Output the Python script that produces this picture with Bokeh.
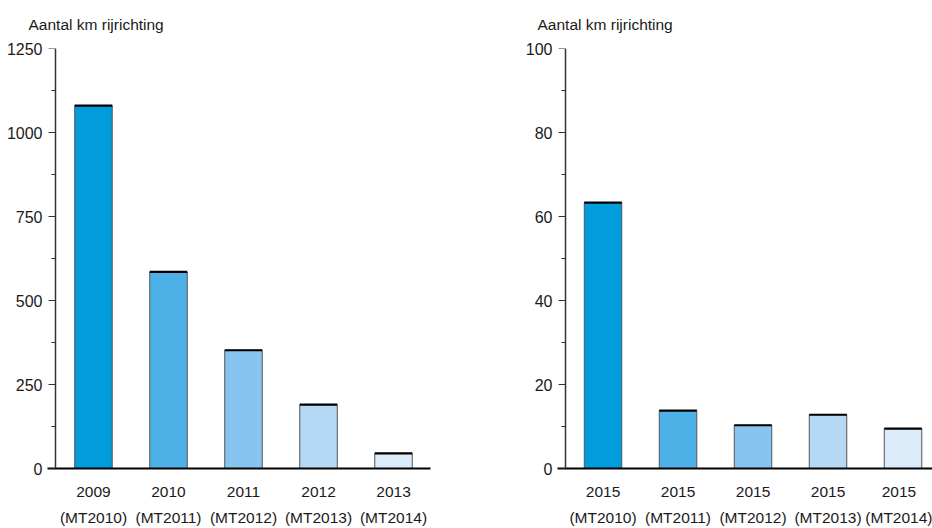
from bokeh.plotting import figure
from bokeh.layouts import row
from bokeh.models import FixedTicker, Range1d, LinearAxis
from bokeh.embed import file_html
from bokeh.resources import INLINE

# ---- data ----
left_years = ["2009", "2010", "2011", "2012", "2013"]
left_models = ["(MT2010)", "(MT2011)", "(MT2012)", "(MT2013)", "(MT2014)"]
left_values = [1080, 585, 352, 190, 45]

right_years = ["2015", "2015", "2015", "2015", "2015"]
right_models = ["(MT2010)", "(MT2011)", "(MT2012)", "(MT2013)", "(MT2014)"]
right_values = [63.3, 13.8, 10.3, 12.8, 9.5]

colors = ["#009cdc", "#4db0e7", "#88c4f0", "#b5d8f5", "#dbebfa"]
y_title = "Aantal km rijrichting"

FONT = "Liberation Sans"
TXT = "#1a1a1a"


def make_chart(years, models, values, ymax, ystep, width, border_left, border_right,
               x_start, x_end, title_offset):
    p = figure(width=width, height=528, output_backend="svg", toolbar_location=None,
               x_range=Range1d(x_start, x_end), y_range=Range1d(0, ymax),
               min_border_left=border_left, min_border_right=border_right,
               min_border_top=48, min_border_bottom=60, title=y_title)
    p.title.text_font = FONT
    p.title.text_font_size = "15.5px"
    p.title.text_font_style = "normal"
    p.title.text_color = TXT
    p.title.align = "left"
    p.title.vertical_align = "top"
    p.title.offset = title_offset
    p.title.standoff = 27

    p.outline_line_color = None
    p.xgrid.visible = False
    p.ygrid.visible = False

    xs = list(range(len(values)))
    p.vbar(x=xs, top=values, bottom=0, width=0.5, fill_color=colors,
           line_color="#555555", line_width=1)
    p.segment(x0=[x - 0.25 for x in xs], x1=[x + 0.25 for x in xs],
              y0=values, y1=values, line_color="black", line_width=2.2)

    # x axis
    xa = p.xaxis[0]
    xa.ticker = FixedTicker(ticks=xs)
    xa.major_label_overrides = {i: f"{years[i]}\n{models[i]}" for i in xs}
    xa.major_tick_out = 0
    xa.major_tick_in = 0
    xa.minor_tick_out = 0
    xa.minor_tick_in = 0
    xa.axis_line_color = "black"
    xa.axis_line_width = 2
    xa.major_label_standoff = 14
    xa.major_label_text_font = FONT
    xa.major_label_text_font_size = "15.5px"
    xa.major_label_text_line_height = 1.55
    xa.major_label_text_color = TXT

    majors = list(range(0, ymax + 1, ystep))
    minors = [m + ystep / 2 for m in majors[:-1]]

    # y axis line + ticks, at the position half a slot before the first bar
    ya = p.yaxis[0]
    ya.fixed_location = -0.5
    ya.ticker = FixedTicker(ticks=majors, minor_ticks=minors)
    ya.major_tick_out = 7
    ya.major_tick_in = 0
    ya.minor_tick_out = 4
    ya.minor_tick_in = 0
    ya.major_tick_line_color = "#333333"
    ya.minor_tick_line_color = "#333333"
    ya.axis_line_color = "#333333"
    ya.axis_line_width = 1.5
    ya.major_label_text_alpha = 0

    # y tick labels
    yl = LinearAxis(ticker=FixedTicker(ticks=majors))
    yl.axis_line_color = None
    yl.major_tick_out = 0
    yl.major_tick_in = 0
    yl.minor_tick_out = 0
    yl.minor_tick_in = 0
    yl.major_label_standoff = 5
    yl.major_label_text_font = FONT
    yl.major_label_text_font_size = "16px"
    yl.major_label_text_color = TXT
    p.add_layout(yl, "left")
    return p


left = make_chart(left_years, left_models, left_values, 1250, 250, 466, 47, 36,
                  -0.613, 4.493, -19)
right = make_chart(right_years, right_models, right_values, 100, 20, 466, 91, 0,
                   -0.607, 4.393, -20)

layout = row(left, right)
open("out.html", "w").write(file_html(layout, INLINE))
